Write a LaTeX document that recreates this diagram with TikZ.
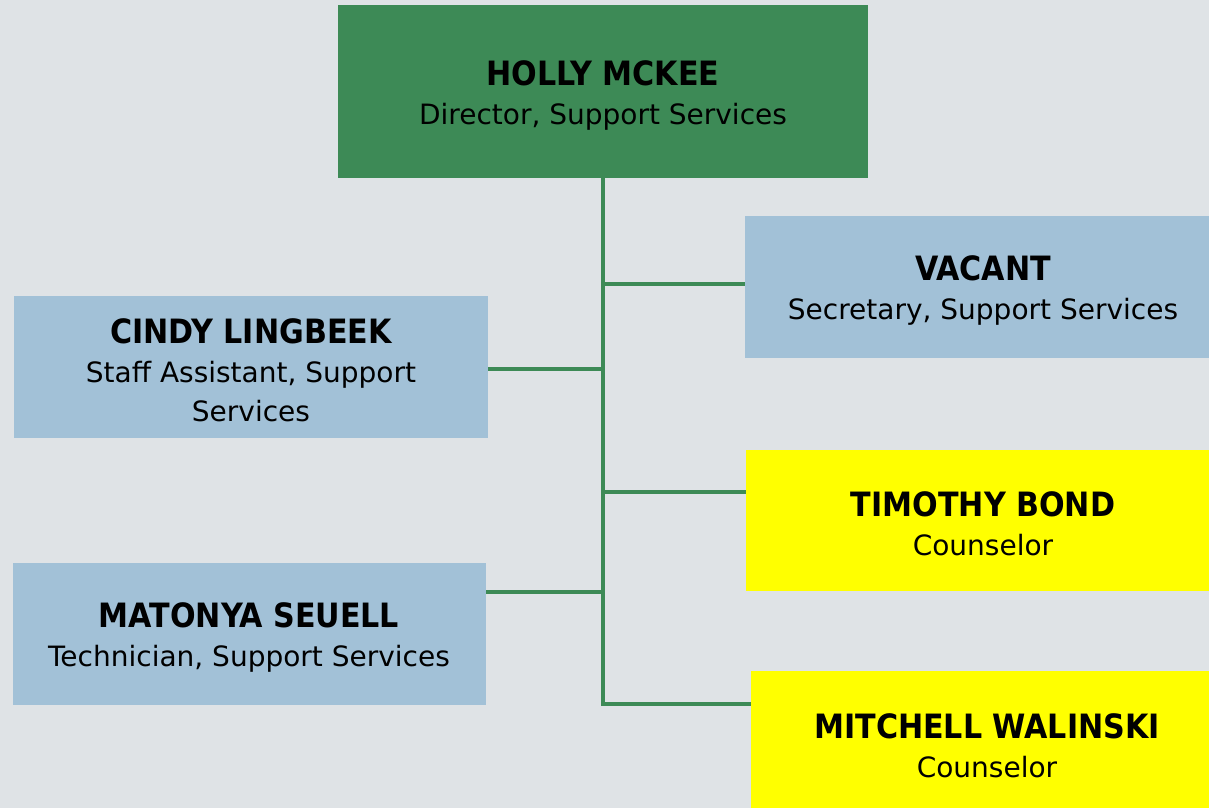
\documentclass[tikz,border=0pt]{standalone}
\usepackage{fontspec}
\setmainfont{DejaVu Sans}
\newfontfamily\condf{DejaVu Sans Condensed}
\definecolor{bg}{HTML}{DFE3E6}
\definecolor{dgreen}{HTML}{3D8A56}
\definecolor{lblue}{HTML}{A2C1D7}
\definecolor{yel}{HTML}{FFFF00}
\newcommand\nmfont{\condf\fontsize{33.5}{40}\selectfont\bfseries}
\tikzset{
  box/.style={rectangle, inner sep=0pt, outer sep=0pt},
  txt/.style={align=center, font=\fontsize{28}{39}\selectfont, text=black, inner sep=0pt},
  link/.style={draw=dgreen, line width=4pt}
}
\begin{document}
\begin{tikzpicture}[x=1pt,y=-1pt]
\fill[bg] (0,0) rectangle (1209,808);
\useasboundingbox (0,0) rectangle (1209,808);
% boxes
\node[box, fill=dgreen, minimum width=530pt, minimum height=173pt] (holly) at (603,91.5) {};
\node[box, fill=lblue, minimum width=464pt, minimum height=142pt] (vacant) at (977,287) {};
\node[box, fill=lblue, minimum width=474pt, minimum height=142pt] (cindy) at (251,367) {};
\node[box, fill=yel, minimum width=463pt, minimum height=141pt] (timothy) at (977.5,520.5) {};
\node[box, fill=lblue, minimum width=473pt, minimum height=142pt] (matonya) at (249.5,634) {};
\node[box, fill=yel, minimum width=458pt, minimum height=137pt] (mitchell) at (980,739.5) {};
% texts
\node[txt] (hollyt) at (603,95) {{\nmfont HOLLY MCKEE}\\Director, Support Services};
\node[txt] (vacantt) at (983,290) {{\nmfont VACANT}\\Secretary, Support Services};
\node[txt] (cindyt) at (251,370) {{\nmfont CINDY LINGBEEK}\\Staff Assistant, Support\\Services};
\node[txt] (timothyt) at (983,524) {{\nmfont TIMOTHY BOND}\\Counselor};
\node[txt] (matonyat) at (249,637) {{\nmfont MATONYA SEUELL}\\Technician, Support Services};
\node[txt] (mitchellt) at (987,746) {{\nmfont MITCHELL WALINSKI}\\Counselor};
% connectors
\coordinate (jv) at (603,283.5);
\coordinate (jc) at (603,368.5);
\coordinate (jt) at (603,492);
\coordinate (jm) at (603,592);
\coordinate (jw) at (603,704);
\draw[link, line join=miter] (holly.south) -- (jw) -- (jw -| mitchell.west);
\draw[link] (jv) -- (jv -| vacant.west);
\draw[link] (jc) -- (jc -| cindy.east);
\draw[link] (jt) -- (jt -| timothy.west);
\draw[link] (jm) -- (jm -| matonya.east);
\end{tikzpicture}
\end{document}
